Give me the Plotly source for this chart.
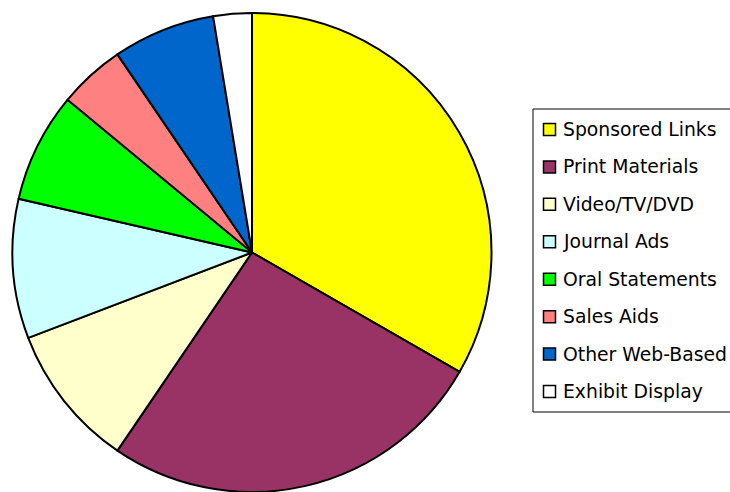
import plotly.graph_objects as go

labels = ["Sponsored Links", "Print Materials", "Video/TV/DVD", "Journal Ads",
          "Oral Statements", "Sales Aids", "Other Web-Based", "Exhibit Display"]
values = [33.3, 26.2, 9.7, 9.4, 7.4, 4.5, 6.9, 2.6]
colors = ["#FFFF00", "#993366", "#FFFFCC", "#CCFFFF",
          "#00FF00", "#FF8080", "#0066CC", "#FFFFFF"]

W, H = 730, 492

def px(x):
    return x / W

def py(y):
    return 1 - y / H

fig = go.Figure()
fig.add_trace(go.Pie(
    labels=labels, values=values, sort=False, direction="clockwise", rotation=0,
    marker=dict(colors=colors, line=dict(color="black", width=2)),
    textinfo="none", hoverinfo="label+percent", showlegend=False,
    domain=dict(x=[px(12), px(492)], y=[0, py(13)]),
))

shapes = [dict(type="rect", xref="paper", yref="paper",
               x0=px(533), x1=px(745), y0=py(412), y1=py(109),
               line=dict(color="black", width=1), fillcolor="white", layer="below")]
annotations = []
y0, step = 129.5, 37.43
for i, (lab, col) in enumerate(zip(labels, colors)):
    cy = y0 + i * step
    shapes.append(dict(type="rect", xref="paper", yref="paper",
                       x0=px(543.5), x1=px(555.5), y0=py(cy + 6), y1=py(cy - 6),
                       line=dict(color="black", width=1.5), fillcolor=col))
    annotations.append(dict(xref="paper", yref="paper", x=px(561), y=py(cy),
                            xanchor="left", yanchor="middle", text=lab, showarrow=False,
                            font=dict(family="DejaVu Sans", size=18.8, color="black")))

fig.update_layout(width=W, height=H, margin=dict(l=0, r=0, t=0, b=0),
                  paper_bgcolor="white", plot_bgcolor="white",
                  shapes=shapes, annotations=annotations, showlegend=False)
fig.write_html("out.html", config={"displayModeBar": False},
               post_script="document.body.style.margin='0';document.body.style.overflow='hidden';")
